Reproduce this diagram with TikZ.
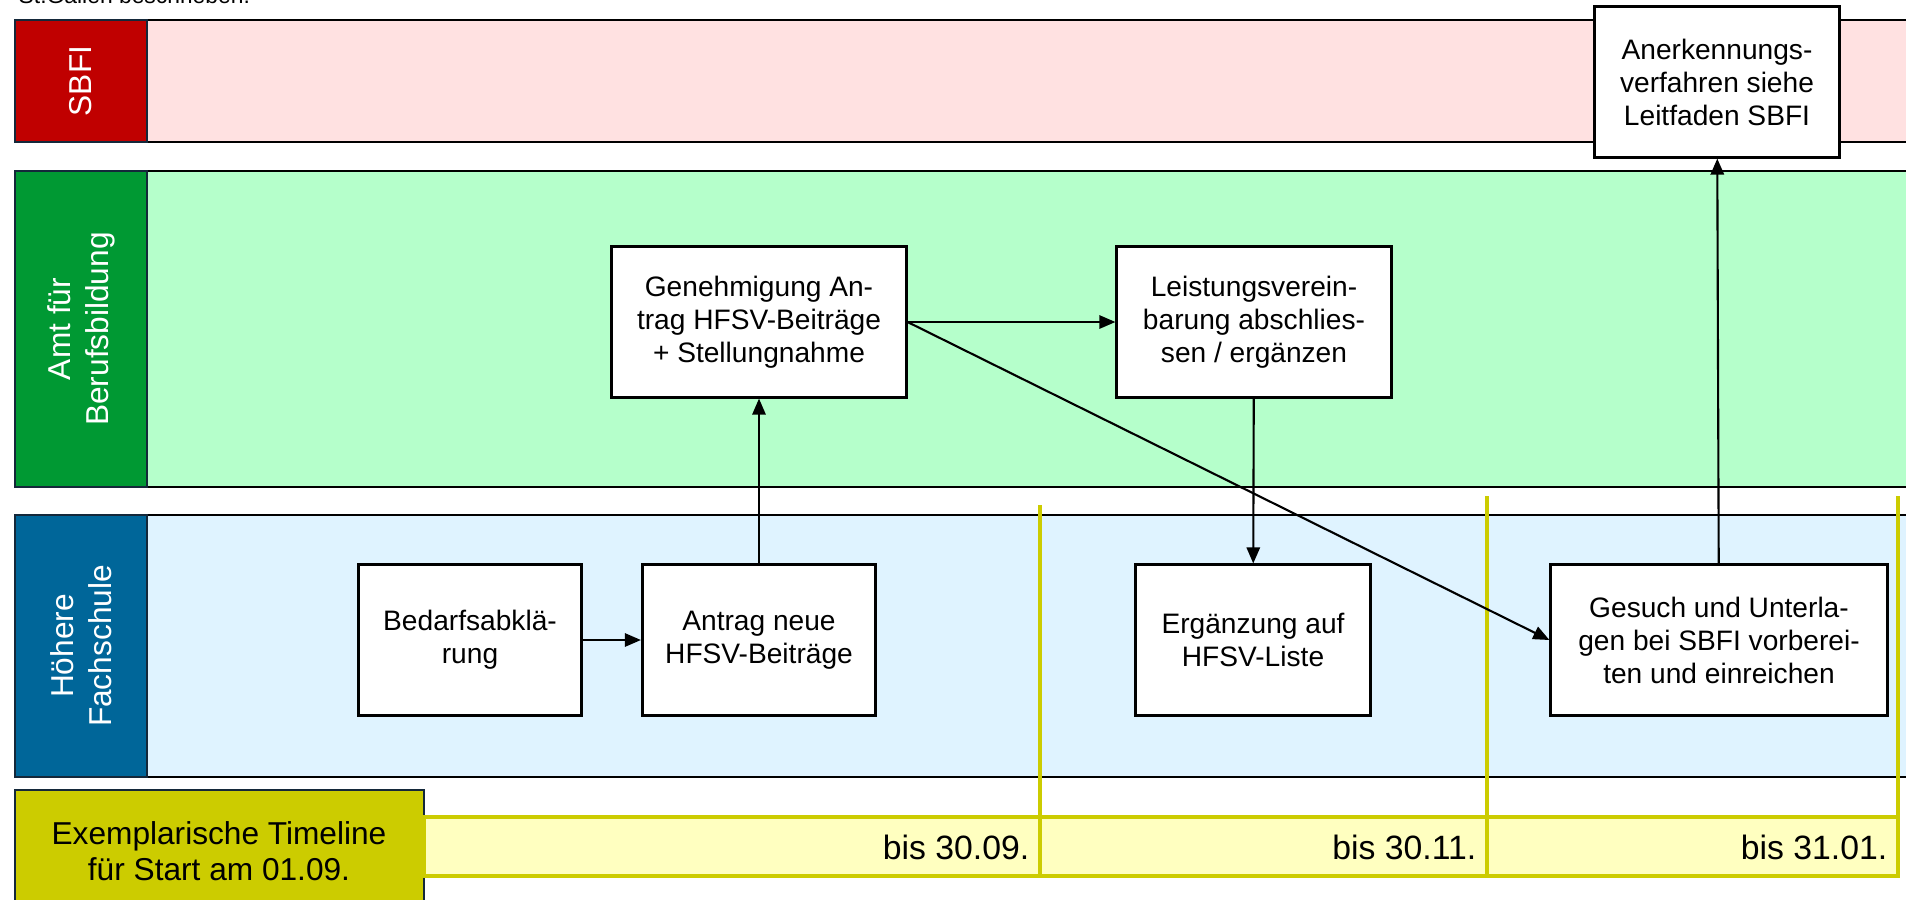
\documentclass[tikz,border=0pt]{standalone}
\usepackage{fontspec}
\setmainfont{Liberation Sans}
\usetikzlibrary{arrows.meta}

\definecolor{sbfidark}{HTML}{C00000}
\definecolor{sbfilight}{HTML}{FFE1E1}
\definecolor{amtdark}{HTML}{009933}
\definecolor{amtlight}{HTML}{B5FFCB}
\definecolor{hfdark}{HTML}{006699}
\definecolor{hflight}{HTML}{DFF3FF}
\definecolor{tldark}{HTML}{CCCC00}
\definecolor{tllight}{HTML}{FFFFC0}
\definecolor{headborder}{HTML}{14283A}

% one swim lane: top, bottom, dark colour, light colour, name, title
\newcommand{\DrawLane}[6]{
    \draw[lane, fill=#4] (147, #1) rectangle (1930, #2);
    \draw[lane, draw=headborder, fill=#3] (15, #1) rectangle (147, #2);
    \node[lanetitle] (#5) at (81, {(#1+#2)/2}) {#6};
}

\begin{document}
\begin{tikzpicture}[
        x=0.01cm, y=-0.01cm,
        lane/.style={line width=0.75pt},
        lanetitle/.style={rotate=90, text=white, align=center, font=\fontsize{9}{10.8}\selectfont},
        box/.style={draw, fill=white, line width=0.85pt, align=center, inner sep=0pt,
            minimum height=1.5cm, font=\fontsize{8}{9.4}\selectfont},
        flow/.style={-{Triangle[length=4.6pt, width=3.8pt]}, line width=0.6pt},
        mark line/.style={tldark, line width=0.95pt},
        datelabel/.style={anchor=east, inner sep=0pt, font=\fontsize{9.6}{11}\selectfont}
    ]
  \useasboundingbox (0,0) rectangle (1906,899);

  % cut off line of the page above
  \node[anchor=base west, inner sep=0pt, font=\fontsize{6.5}{8}\selectfont] (pagetext) at (18, 3) {St.Gallen beschrieben.};

  %%% Lanes
  \DrawLane{20}{142}{sbfidark}{sbfilight}{sbfi}{SBFI}
  \DrawLane{171}{487}{amtdark}{amtlight}{amt}{Amt für\\Berufsbildung}
  \DrawLane{515}{777}{hfdark}{hflight}{hf}{Höhere\\Fachschule}

  %%% Timeline
  \draw[lane, draw=headborder, fill=tldark] (15, 790) rectangle (424, 920);
  \node[align=center, font=\fontsize{9}{10.4}\selectfont] (tltitle) at (219, 851)
    {Exemplarische Timeline\\für Start am 01.09.};
  \foreach \a/\b/\d [count=\i] in {424/1040/bis 30.09., 1040/1487/bis 30.11., 1487/1898/bis 31.01.} {
    \draw[mark line, fill=tllight] (\a, 817) rectangle (\b, 876);
    \node[datelabel] (date\i) at (\b-10, 847) {\d};
  }
  \foreach \x/\t in {1040/505, 1487/496, 1898/496}
    \draw[mark line] (\x, \t) -- (\x, 845);

  %%% Steps
  \node[box, minimum width=2.45cm] (anerk) at (1717, 82) {Anerkennungs-\\verfahren siehe\\Leitfaden SBFI};
  \node[box, minimum width=2.94cm] (genehm) at (759, 322) {Genehmigung An-\\trag HFSV-Beiträge\\+ Stellungnahme};
  \node[box, minimum width=2.74cm] (leist) at (1254, 322) {Leistungsverein-\\barung abschlies-\\sen / ergänzen};
  \node[box, minimum width=2.23cm] (bedarf) at (470, 640) {Bedarfsabklä-\\rung};
  \node[box, minimum width=2.33cm] (antrag) at (759, 640) {Antrag neue\\HFSV-Beiträge};
  \node[box, minimum width=2.35cm] (ergaenz) at (1253, 640) {Ergänzung auf\\HFSV-Liste};
  \node[box, minimum width=3.36cm] (gesuch) at (1719, 640) {Gesuch und Unterla-\\gen bei SBFI vorberei-\\ten und einreichen};

  %%% Flow
  \draw[flow] (bedarf) -- (antrag);
  \draw[flow] (antrag) -- (genehm);
  \draw[flow] (genehm.east) -- (leist.west);
  \draw[flow] (genehm.east) -- (gesuch.west);
  \draw[flow] (leist) -- (ergaenz);
  \draw[flow] (gesuch) -- (anerk);
\end{tikzpicture}
\end{document}
